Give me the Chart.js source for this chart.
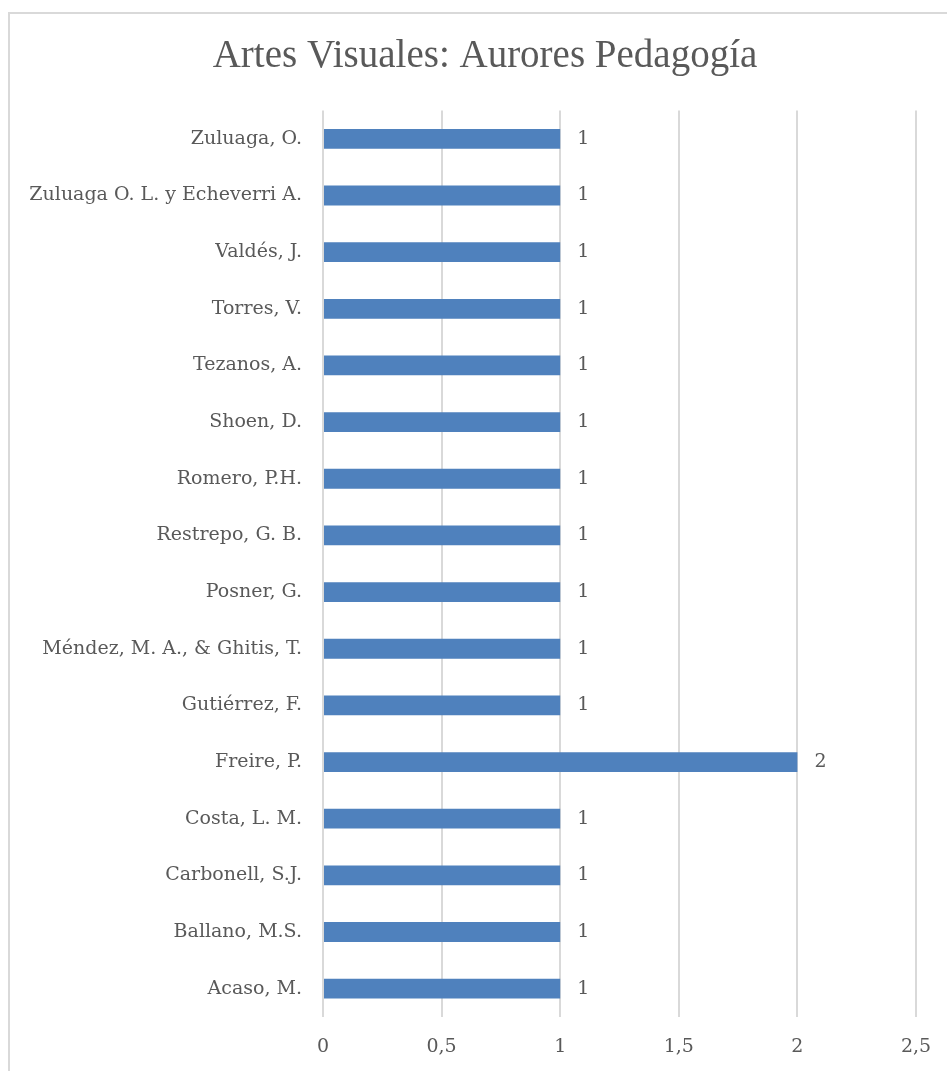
<!DOCTYPE html>
<html>
<head>
<meta charset="utf-8">
<script src="https://cdn.jsdelivr.net/npm/chart.js@4"></script>
<style>
  html, body { margin: 0; padding: 0; background: #fff; overflow: hidden; }
  #frame { position: absolute; left: 8px; top: 12px; width: 1000px; height: 1100px; border: 2px solid #d9d9d9; }
  #wrap { position: absolute; left: 0; top: 0; width: 947px; height: 1071px; }
</style>
</head>
<body>
<div id="frame"></div>
<div id="wrap"><canvas id="myChart"></canvas></div>
<script>
// authors, top to bottom as in the picture
const authors = ["Zuluaga, O.", "Zuluaga O. L. y Echeverri A.", "Valdés, J.", "Torres, V.", "Tezanos, A.",
  "Shoen, D.", "Romero, P.H.", "Restrepo, G. B.", "Posner, G.", "Méndez, M. A., & Ghitis, T.",
  "Gutiérrez, F.", "Freire, P.", "Costa, L. M.", "Carbonell, S.J.", "Ballano, M.S.", "Acaso, M."];
const counts = [1, 1, 1, 1, 1, 1, 1, 1, 1, 1, 1, 2, 1, 1, 1, 1];
const xTicks = [0, 0.5, 1, 1.5, 2, 2.5];
const chartTitle = "Artes Visuales: Aurores Pedagogía";

const fontName = "'DejaVu Serif', serif";
const titleFont = "'Liberation Serif', serif";
const textColor = "#595959";

// title is drawn by hand: in the picture it sits a bit right of the canvas centre
const titlePlugin = {
  id: "titlePlugin",
  afterDraw(chart) {
    const ctx = chart.ctx;
    ctx.save();
    ctx.font = "39px " + titleFont;
    ctx.fillStyle = textColor;
    ctx.textAlign = "center";
    ctx.textBaseline = "middle";
    ctx.fillText(chartTitle, 485, 57);
    ctx.restore();
  }
};

// value labels right of each bar
const barLabels = {
  id: "barLabels",
  afterDatasetsDraw(chart) {
    const ctx = chart.ctx;
    ctx.save();
    ctx.font = "19px " + fontName;
    ctx.fillStyle = textColor;
    ctx.textAlign = "left";
    ctx.textBaseline = "middle";
    chart.getDatasetMeta(0).data.forEach((bar, i) => {
      ctx.fillText(String(counts[i]), bar.x + 17, bar.y);
    });
    ctx.restore();
  }
};

const config = {
  type: "bar",
  data: {
    labels: authors,
    datasets: [{
      label: "Autores",
      data: counts,
      backgroundColor: "#4F81BD",
      borderWidth: 0,
      categoryPercentage: 1,
      barPercentage: 0.35
    }]
  },
  options: {
    indexAxis: "y",
    responsive: false,
    animation: false,
    layout: { padding: { left: 0, right: 31, top: 110.5, bottom: 0 } },
    plugins: {
      legend: { display: false },
      tooltip: { enabled: false },
      title: { display: false }
    },
    scales: {
      x: {
        min: 0,
        max: 2.5,
        afterBuildTicks: (s) => { s.ticks = xTicks.map(v => ({ value: v })); },
        afterFit: (s) => { s.height = 54; s.paddingLeft = 0; s.paddingRight = 0; },
        grid: { color: "#d9d9d9", lineWidth: 2, drawTicks: false },
        border: { display: false },
        ticks: {
          padding: 19,
          color: textColor,
          font: { family: fontName, size: 19 },
          callback: (v) => String(v).replace(".", ",")
        }
      },
      y: {
        afterFit: (s) => { s.width = 323; },
        grid: { display: false, drawTicks: false },
        border: { display: false },
        ticks: {
          padding: 21,
          color: textColor,
          font: { family: fontName, size: 19 }
        }
      }
    }
  },
  plugins: [barLabels, titlePlugin]
};

const canvas = document.getElementById("myChart");
canvas.width = 947;
canvas.height = 1071;
new Chart(canvas, config);
</script>
</body>
</html>
